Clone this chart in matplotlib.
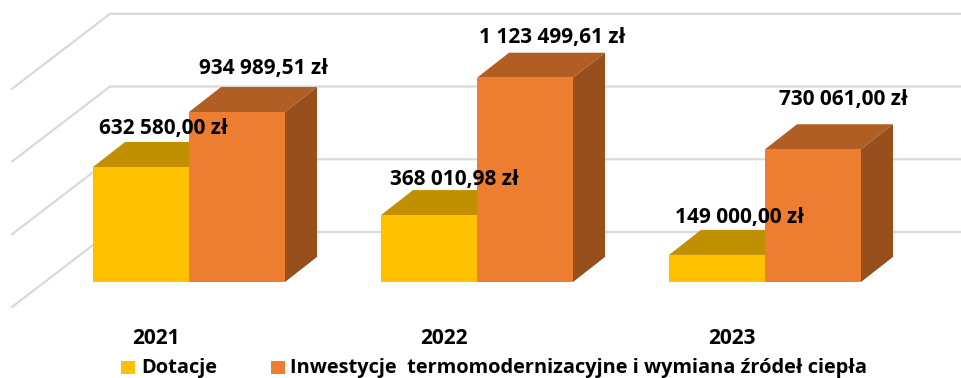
import matplotlib
matplotlib.use('Agg')
import matplotlib.pyplot as plt

years = ['2021', '2022', '2023']
dotacje = [632580.00, 368010.98, 149000.00]
inwestycje = [934989.51, 1123499.61, 730061.00]
dotacje_labels = ['632 580,00 zł', '368 010,98 zł', '149 000,00 zł']
inwestycje_labels = ['934 989,51 zł', '1 123 499,61 zł', '730 061,00 zł']
grid_values = [0, 400000, 800000, 1200000]
legend_names = ['Dotacje', 'Inwestycje  termomodernizacyjne i wymiana źródeł ciepła']

W, H = 961, 378
ZL_PER_PX = 5500.0
BASE_PX = 282      # image row of value 0 on the bar front
BAR_W = 96
DEPTH_X, DEPTH_Y = 32, 25
GROUP_LEFT = [93, 381, 669]

plt.rcParams['font.family'] = ['Open Sans', 'DejaVu Sans']
plt.rcParams['font.weight'] = 'bold'

fig = plt.figure(figsize=(W / 100, H / 100), dpi=100)
ax = fig.add_axes([0, 0, 1, 1])
ax.set_xlim(0, W)
ax.set_ylim(-(H - BASE_PX) * ZL_PER_PX, BASE_PX * ZL_PER_PX)
ax.axis('off')


def up(px):
    return px * ZL_PER_PX


# walls: side line going to front plus back line
for v in grid_values:
    y_back = v + up(50)
    y_front = v - up(25)
    ax.plot([12, 110, W], [y_front, y_back, y_back], color='#d9d9d9', lw=1.6, zorder=1,
            solid_joinstyle='miter')


def bar3d(x, value, front, top, side):
    ax.fill([x, x + BAR_W, x + BAR_W, x], [0, 0, value, value], color=front, lw=0, zorder=3)
    ax.fill([x, x + BAR_W, x + BAR_W + DEPTH_X, x + DEPTH_X],
            [value, value, value + up(DEPTH_Y), value + up(DEPTH_Y)], color=top, lw=0, zorder=2)
    ax.fill([x + BAR_W, x + BAR_W + DEPTH_X, x + BAR_W + DEPTH_X, x + BAR_W],
            [0, up(DEPTH_Y), value + up(DEPTH_Y), value], color=side, lw=0, zorder=2)


for i, left in enumerate(GROUP_LEFT):
    bar3d(left, dotacje[i], '#FFC000', '#C09000', '#C09000')
    bar3d(left + BAR_W, inwestycje[i], '#ED7D31', '#B15E25', '#974F1E')

# data labels, hand placed like in the original chart
dot_x = [163, 454, 740]
dot_off = [38, 36, 37]
inv_x = [264, 552, 843]
inv_off = [44, 40, 50]
for i in range(3):
    ax.text(dot_x[i], dotacje[i] + up(dot_off[i]), dotacje_labels[i], ha='center', va='center',
            fontsize=15, fontweight='bold', color='black', zorder=5)
    ax.text(inv_x[i], inwestycje[i] + up(inv_off[i]), inwestycje_labels[i], ha='center', va='center',
            fontsize=15, fontweight='bold', color='black', zorder=5)

# category labels
year_x = [156, 444, 732]
for x, y in zip(year_x, years):
    ax.text(x, -up(338 - BASE_PX), y, ha='center', va='center', fontsize=15, fontweight='bold', color='black')

# legend
ax.fill([121, 135, 135, 121], [-up(361 - BASE_PX), -up(361 - BASE_PX), -up(374 - BASE_PX), -up(374 - BASE_PX)],
        color='#FFC000', lw=0)
ax.fill([271, 285, 285, 271], [-up(361 - BASE_PX), -up(361 - BASE_PX), -up(374 - BASE_PX), -up(374 - BASE_PX)],
        color='#ED7D31', lw=0)
ax.text(141, -up(368 - BASE_PX), legend_names[0], ha='left', va='center', fontsize=14.4, fontweight='bold', color='black')
ax.text(290, -up(368 - BASE_PX), legend_names[1], ha='left', va='center', fontsize=14.4, fontweight='bold', color='black')

fig.savefig('out.png', dpi=100)
